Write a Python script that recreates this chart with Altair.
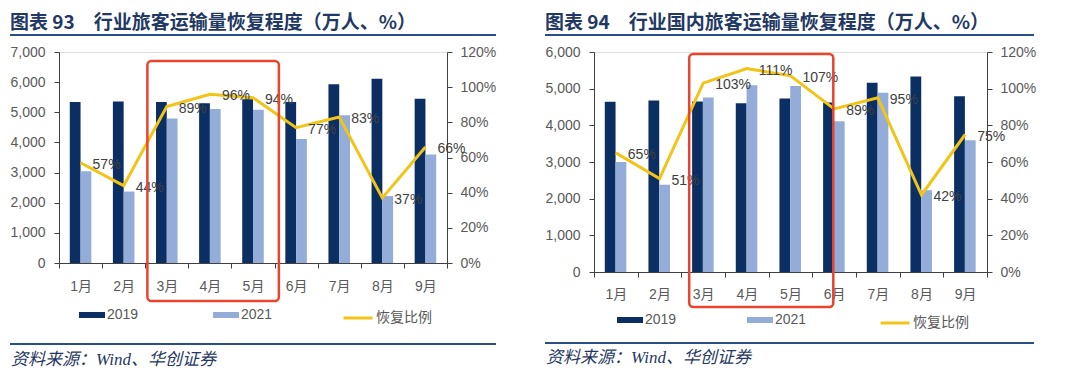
import altair as alt
import pandas as pd

months = ["1月", "2月", "3月", "4月", "5月", "6月", "7月", "8月", "9月"]
years = ["2019", "2021"]

total_2019 = [5340, 5360, 5340, 5300, 5430, 5340, 5930, 6110, 5450]
total_2021 = [3040, 2370, 4790, 5110, 5080, 4110, 4900, 2220, 3600]
total_ratio = [57, 44, 89, 96, 94, 77, 83, 37, 66]

dom_2019 = [4640, 4680, 4650, 4600, 4730, 4620, 5160, 5330, 4790]
dom_2021 = [3000, 2380, 4760, 5090, 5070, 4110, 4890, 2230, 3590]
dom_ratio = [65, 51, 103, 111, 107, 89, 95, 42, 75]

left_ticks = [0, 1000, 2000, 3000, 4000, 5000, 6000, 7000]
right_ticks = [0, 1000, 2000, 3000, 4000, 5000, 6000]
pct_ticks = [0, 0.2, 0.4, 0.6, 0.8, 1.0, 1.2]

titles = ["图表 93\u2003行业旅客运输量恢复程度（万人、%）",
          "图表 94\u2003行业国内旅客运输量恢复程度（万人、%）"]
source = "资料来源：Wind、华创证券"
line_name = "恢复比例"
highlight_left = ["3月", "6月"]
highlight_right = ["3月", "6月"]

NAVY = "#0b2f63"
LIGHT = "#93acd8"
YELLOW = "#f2c417"
RED = "#e8452f"
AXIS = "#404040"
LABEL = "#595959"
TITLE_C = "#1f3864"
RULE_C = "#2a4f86"
FONT = "Liberation Sans, Arial, Noto Sans CJK SC, sans-serif"
CJK = "Noto Sans CJK SC"
LEFT = -49


def panel(v19, v21, ratio, ytick, ymax, title, hl, W, H, c):
    bars_df = pd.DataFrame({
        "month": months * 2,
        "year": [years[0]] * len(months) + [years[1]] * len(months),
        "value": v19 + v21,
    })
    line_df = pd.DataFrame({
        "month": months,
        "ratio": [r / 100 for r in ratio],
        "series": [line_name] * len(months),
    })
    one = pd.DataFrame({"t": [title], "s": [source], "a": [hl[0]], "b": [hl[1]]})

    xscale = alt.Scale(domain=months, paddingInner=0, paddingOuter=0)
    xaxis = alt.Axis(title=None, labelAngle=0, tickBand="extent", tickSize=5,
                     tickColor=AXIS, domainColor=AXIS, labelColor=LABEL,
                     labelFontSize=14, labelFont=FONT, labelPadding=c["xlp"], grid=False)
    xenc = alt.X("month:N", scale=xscale, axis=xaxis)

    bars = alt.Chart(bars_df).mark_bar().encode(
        x=xenc,
        xOffset=alt.XOffset("year:N", scale=alt.Scale(domain=years, paddingInner=0, paddingOuter=1)),
        y=alt.Y("value:Q", scale=alt.Scale(domain=[0, ymax]),
                axis=alt.Axis(title=None, orient="left", values=ytick, format=",d", tickSize=5,
                              tickColor=AXIS, domainColor=AXIS, labelColor=LABEL,
                              labelFontSize=14, labelFont=FONT, labelPadding=9, grid=False)),
        fill=alt.Fill("year:N", scale=alt.Scale(domain=years, range=[NAVY, LIGHT]),
                      legend=alt.Legend(title=None, orient="none", legendX=c["lx1"], legendY=H + c["ly"],
                                        direction="horizontal", symbolType="M-1,-0.23H1V0.23H-1Z",
                                        symbolSize=676, symbolStrokeWidth=0, labelOffset=2,
                                        columnPadding=c["cp"], labelFontSize=14, labelColor=LABEL,
                                        labelFont=FONT)),
    )

    base = alt.Chart(line_df).encode(
        x=xenc,
        y=alt.Y("ratio:Q", scale=alt.Scale(domain=[0, 1.2]),
                axis=alt.Axis(title=None, orient="right", values=pct_ticks, format=".0%",
                              tickSize=5, tickColor=AXIS, domainColor=AXIS, labelColor=LABEL,
                              labelFontSize=14, labelFont=FONT, labelPadding=8, grid=False)),
    )
    line = base.mark_line(strokeWidth=3).encode(
        stroke=alt.Stroke("series:N", scale=alt.Scale(domain=[line_name], range=[YELLOW]),
                          legend=alt.Legend(title=None, orient="none", legendX=c["lx3"],
                                            legendY=H + c["ly"],
                                            symbolType="stroke", symbolSize=841, symbolStrokeWidth=3,
                                            labelOffset=2, labelFontSize=14, labelColor=LABEL,
                                            labelFont=FONT)),
    )
    labels = base.mark_text(align="left", baseline="middle", dx=12, dy=2,
                            fontSize=14, color="#404040", font=FONT).encode(
        text=alt.Text("ratio:Q", format=".0%"),
    )
    ratio_layer = alt.layer(line, labels)

    rect = alt.Chart(one).mark_rect(filled=False, stroke=RED, strokeWidth=2.5, cornerRadius=4).encode(
        x=alt.X("a:N", scale=xscale, bandPosition=c["b1"], axis=xaxis),
        x2=alt.X2("b:N", bandPosition=c["b2"]),
        y=alt.value(c["ry1"]),
        y2=alt.value(c["ry2"]),
    )
    ttl = alt.Chart(one).mark_text(align="left", baseline="middle", fontSize=19, fontWeight="bold",
                                   color=TITLE_C, font=CJK).encode(
        text="t:N", x=alt.value(LEFT), y=alt.value(-29))
    trule = alt.Chart(one).mark_rule(color=RULE_C, strokeWidth=2).encode(
        x=alt.value(LEFT), x2=alt.value(c["rx2"]), y=alt.value(-17))
    frule = alt.Chart(one).mark_rule(color=RULE_C, strokeWidth=2).encode(
        x=alt.value(LEFT), x2=alt.value(c["rx2"]), y=alt.value(H + c["fr"]))
    src = alt.Chart(one).mark_text(align="left", baseline="middle", fontSize=17, fontStyle="italic",
                                   color=TITLE_C, font="Liberation Serif, Noto Sans CJK SC").encode(
        text="s:N", x=alt.value(LEFT + 1), y=alt.value(H + c["st"]))

    return alt.layer(bars, ratio_layer, rect, ttl, trule, frule, src).resolve_scale(
        y="independent").properties(width=W, height=H)


left = panel(total_2019, total_2021, total_ratio, left_ticks, 7000, titles[0], highlight_left, 388, 211,
             dict(xlp=11, lx1=20, lx3=283, ly=39, cp=74, b1=0.05, b2=0.1, ry1=9, ry2=249,
                  rx2=437, fr=81, st=97))
right = panel(dom_2019, dom_2021, dom_ratio, right_ticks, 6000, titles[1], highlight_right, 393, 220,
              dict(xlp=10, lx1=23, lx3=285, ly=35, cp=70, b1=0.18, b2=0.48, ry1=2, ry2=255,
                   rx2=440, fr=71, st=86))

chart = alt.hconcat(left, right, spacing=45).resolve_scale(
    fill="independent", stroke="independent").properties(
    padding={"left": 0, "top": 5, "right": 0, "bottom": 0}).configure_view(
    stroke=None).configure(background="white")

chart.save("out.html", embed_options={"renderer": "svg", "actions": False})
